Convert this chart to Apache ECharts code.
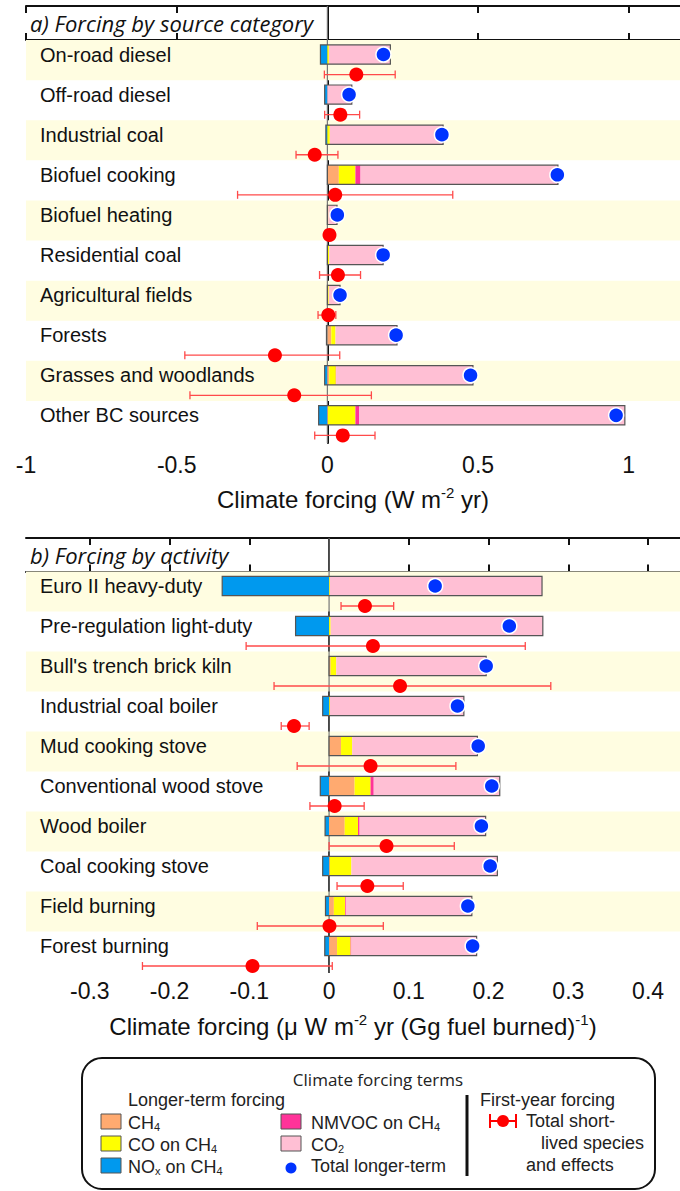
<!DOCTYPE html>
<html><head><meta charset="utf-8">
<script src="https://cdn.jsdelivr.net/npm/echarts@6/dist/echarts.min.js"></script>
<style>html,body{margin:0;padding:0;background:#fff;}#c{width:680px;height:1191px;}</style>
</head><body><div id="c"></div>
<script>
// ---------- Panel a: Forcing by source category (W m-2 yr) ----------
const catsA = ["On-road diesel","Off-road diesel","Industrial coal","Biofuel cooking","Biofuel heating","Residential coal","Agricultural fields","Forests","Grasses and woodlands","Other BC sources"];
const noxA   = [-0.023,-0.009,-0.005,0,0,0,0,-0.003,-0.009,-0.029];
const ch4A   = [0,0,0,0.038,0.002,0,0.003,0.013,0.006,0.002];
const coA    = [0.005,0,0.008,0.055,0.001,0.006,0.002,0.014,0.022,0.091];
const nmvocA = [0,0,0,0.017,0,0,0,0,0.001,0.013];
const co2A   = [0.204,0.081,0.376,0.655,0.029,0.179,0.037,0.204,0.454,0.881];
const totalA = [0.186,0.072,0.380,0.763,0.033,0.185,0.042,0.228,0.475,0.958];
const fyA    = [0.096,0.043,-0.042,0.026,0.007,0.035,0.003,-0.174,-0.110,0.051];
const fyLowA = [-0.010,-0.009,-0.104,-0.298,0.002,-0.026,-0.031,-0.473,-0.456,-0.042];
const fyHighA= [0.225,0.107,0.035,0.416,0.012,0.110,0.028,0.041,0.146,0.158];
const ticksA = [-1,-0.5,0,0.5,1];

// ---------- Panel b: Forcing by activity (uW m-2 yr (Gg fuel burned)-1) ----------
const catsB = ["Euro II heavy-duty","Pre-regulation light-duty","Bull's trench brick kiln","Industrial coal boiler","Mud cooking stove","Conventional wood stove","Wood boiler","Coal cooking stove","Field burning","Forest burning"];
const noxB   = [-0.134,-0.042,0,-0.008,0,-0.011,-0.005,-0.008,-0.0045,-0.0054];
const ch4B   = [0,0,0.002,0,0.015,0.032,0.0196,0.001,0.006,0.010];
const coB    = [0.001,0.002,0.007,0.001,0.014,0.020,0.0167,0.027,0.014,0.017];
const nmvocB = [0,0,0,0,0,0.004,0.002,0,0.001,0.001];
const co2B   = [0.266,0.266,0.188,0.168,0.157,0.158,0.158,0.183,0.158,0.157];
const totalB = [0.133,0.226,0.197,0.161,0.187,0.204,0.191,0.202,0.174,0.180];
const fyB    = [0.045,0.055,0.089,-0.044,0.052,0.007,0.072,0.048,0.0005,-0.096];
const fyLowB = [0.015,-0.104,-0.069,-0.060,-0.040,-0.024,0.000,0.010,-0.090,-0.234];
const fyHighB= [0.081,0.246,0.278,-0.025,0.159,0.044,0.157,0.093,0.068,0.004];
const ticksB = [-0.3,-0.2,-0.1,0,0.1,0.2,0.3,0.4];

const BAND='#fffde1', C_NOX='#0099ee', C_CH4='#ffaa70', C_CO='#ffff00', C_NMVOC='#ff3399', C_CO2='#ffbfd4', C_TOT='#0033ff', C_FY='#ff0000', C_ERR='#ff4a4a';
const SANS='"Liberation Sans", Arial, Helvetica, sans-serif';
const BAR_POS=0.36, ERR_POS=0.86;

function panelSeries(g, cats, nox, ch4, co, nmvoc, co2, total, fy, lo, hi){
  const xi=g*2, yi=g;
  return [
    {type:'custom', xAxisIndex:xi, yAxisIndex:yi, silent:true, z:1, clip:false,
     data: cats.map((c,i)=>[0,i]), encode:{x:0,y:1},
     renderItem(params, api){
       const i=api.value(1), cs=params.coordSys, ch=[];
       const y0=api.coord([0,i])[1], y1=api.coord([0,i+1])[1];
       if(i%2===0) ch.push({type:'rect', shape:{x:cs.x, y:y0, width:cs.width, height:y1-y0}, style:{fill:BAND}});
       ch.push({type:'text', x:cs.x+14, y:api.coord([0,i+BAR_POS])[1], style:{text:cats[i], fill:'#111', font:'20px '+SANS, align:'left', verticalAlign:'middle'}});
       return {type:'group', children:ch};
     }},
    {type:'custom', xAxisIndex:xi, yAxisIndex:yi, silent:true, z:2, clip:false,
     data:[[0,0]], encode:{x:0,y:1},
     renderItem(params, api){
       const cs=params.coordSys, x=api.coord([0,0])[0];
       return {type:'line', shape:{x1:x,y1:cs.y,x2:x,y2:cs.y+cs.height}, style:{stroke:'#777', lineWidth:1.2}};
     }},
    {type:'custom', xAxisIndex:xi, yAxisIndex:yi, silent:true, z:3, clip:false,
     data: cats.map((c,i)=>[i,nox[i],ch4[i],co[i],nmvoc[i],co2[i],total[i]]), encode:{x:[1,6],y:0},
     renderItem(params, api){
       const i=api.value(0), yc=api.coord([0,i+BAR_POS])[1], h=api.size([0,0.48])[1], ch=[];
       const seg=(a,b,col)=>{ if(a===b) return; const xa=api.coord([a,i])[0], xb=api.coord([b,i])[0];
         ch.push({type:'rect', shape:{x:Math.min(xa,xb), y:yc-h/2, width:Math.abs(xb-xa), height:h}, style:{fill:col}}); };
       const n=api.value(1); seg(n,0,C_NOX);
       let s=0; [[2,C_CH4],[3,C_CO],[4,C_NMVOC],[5,C_CO2]].forEach(([k,col])=>{const v=api.value(k); seg(s,s+v,col); s+=v;});
       const xl=api.coord([n,i])[0], xr=api.coord([s,i])[0];
       ch.push({type:'rect', shape:{x:xl, y:yc-h/2, width:xr-xl, height:h}, style:{fill:'none', stroke:'#555', lineWidth:1.2}});
       const xt=api.coord([api.value(6),i])[0];
       ch.push({type:'circle', shape:{cx:xt, cy:yc, r:7.5}, style:{fill:C_TOT, stroke:'#fff', lineWidth:1.5}});
       return {type:'group', children:ch};
     }},
    {type:'custom', xAxisIndex:xi, yAxisIndex:yi, silent:true, z:4, clip:false,
     data: cats.map((c,i)=>[i,fy[i],lo[i],hi[i]]), encode:{x:[1,3],y:0},
     renderItem(params, api){
       const i=api.value(0), y=api.coord([0,i+ERR_POS])[1];
       const xa=api.coord([api.value(2),i])[0], xb=api.coord([api.value(3),i])[0], xf=api.coord([api.value(1),i])[0];
       const st={stroke:C_ERR, lineWidth:1.3};
       return {type:'group', children:[
         {type:'line', shape:{x1:xa,y1:y,x2:xb,y2:y}, style:st},
         {type:'line', shape:{x1:xa,y1:y-4,x2:xa,y2:y+4}, style:st},
         {type:'line', shape:{x1:xb,y1:y-4,x2:xb,y2:y+4}, style:st},
         {type:'circle', shape:{cx:xf, cy:y, r:7}, style:{fill:C_FY}}
       ]};
     }}
  ];
}

function xAxes(g, min, max, ticks, name, gap, margin){
  const line={show:true, lineStyle:{color:'#111', width:2}};
  const tick={show:true, inside:true, length:7, lineStyle:{color:'#111', width:2}, customValues:ticks};
  return [
    {type:'value', gridIndex:g, position:'bottom', min, max, axisLine:line, axisTick:tick, splitLine:{show:false},
     axisLabel:{show:true, customValues:ticks, fontSize:23, fontFamily:SANS, color:'#111', margin, formatter:v=>String(+v.toFixed(2))},
     name, nameLocation:'middle', nameGap:gap,
     nameTextStyle:{fontSize:24, fontFamily:SANS, color:'#111', rich:{sup:{fontSize:15, fontFamily:SANS, color:'#111', padding:[0,0,13,0]}}}},
    {type:'value', gridIndex:g, position:'top', min, max, axisLine:line, axisTick:tick, splitLine:{show:false}, axisLabel:{show:false}}
  ];
}

const SUB={s:{fontSize:11, fontFamily:SANS, fill:'#222', padding:[7,0,0,0]}};
const LF='18px '+SANS;
const option = {
  animation:false,
  backgroundColor:'#fff',
  grid:[
    {left:26, top:6, width:654, height:437},
    {left:26, top:538, width:654, height:434}
  ],
  xAxis:[
    ...xAxes(0,-1,1.17,ticksA,'Climate forcing (W m{sup|-2} yr)',42,10),
    ...xAxes(1,-0.38,0.44,ticksB,'Climate forcing (μ W m{sup|-2} yr (Gg fuel burned){sup|-1})',40,7)
  ],
  yAxis:[
    {type:'value', gridIndex:0, inverse:true, min:-0.85, max:10.05, axisLine:{show:true, lineStyle:{color:'#111',width:2}}, axisTick:{show:false}, axisLabel:{show:false}, splitLine:{show:false}},
    {type:'value', gridIndex:1, inverse:true, min:-0.84, max:10.01, axisLine:{show:true, lineStyle:{color:'#111',width:2}}, axisTick:{show:false}, axisLabel:{show:false}, splitLine:{show:false}}
  ],
  series:[
    ...panelSeries(0,catsA,noxA,ch4A,coA,nmvocA,co2A,totalA,fyA,fyLowA,fyHighA),
    ...panelSeries(1,catsB,noxB,ch4B,coB,nmvocB,co2B,totalB,fyB,fyLowB,fyHighB)
  ],
  graphic:[
    {type:'text', x:30, y:23, z:10, style:{text:'a) Forcing by source category', font:'italic 22px "Open Sans", sans-serif', fill:'#111', align:'left', verticalAlign:'middle'}},
    {type:'text', x:30, y:555, z:10, style:{text:'b) Forcing by activity', font:'italic 22px "Open Sans", sans-serif', fill:'#111', align:'left', verticalAlign:'middle'}},
    // legend box
    {type:'rect', shape:{x:82, y:1058, width:573, height:131, r:20}, style:{fill:'#fff', stroke:'#111', lineWidth:2}},
    {type:'text', x:378, y:1079, style:{text:'Climate forcing terms', font:'17px "Open Sans", sans-serif', fill:'#222', align:'center', verticalAlign:'middle'}},
    {type:'text', x:128, y:1100, style:{text:'Longer-term forcing', font:LF, fill:'#222', align:'left', verticalAlign:'middle'}},
    {type:'rect', shape:{x:101, y:1114, width:20, height:15}, style:{fill:C_CH4, stroke:'#555', lineWidth:1}},
    {type:'rect', shape:{x:101, y:1136, width:20, height:15}, style:{fill:C_CO, stroke:'#555', lineWidth:1}},
    {type:'rect', shape:{x:101, y:1158, width:20, height:15}, style:{fill:C_NOX, stroke:'#555', lineWidth:1}},
    {type:'text', x:128, y:1123, style:{text:'CH{s|4}', rich:SUB, font:LF, fill:'#222', align:'left', verticalAlign:'middle'}},
    {type:'text', x:128, y:1145, style:{text:'CO on CH{s|4}', rich:SUB, font:LF, fill:'#222', align:'left', verticalAlign:'middle'}},
    {type:'text', x:128, y:1167, style:{text:'NO{s|x} on CH{s|4}', rich:SUB, font:LF, fill:'#222', align:'left', verticalAlign:'middle'}},
    {type:'rect', shape:{x:281, y:1114, width:20, height:15}, style:{fill:C_NMVOC, stroke:'#555', lineWidth:1}},
    {type:'rect', shape:{x:281, y:1136, width:20, height:15}, style:{fill:C_CO2, stroke:'#555', lineWidth:1}},
    {type:'circle', shape:{cx:291, cy:1168, r:5.5}, style:{fill:C_TOT}},
    {type:'text', x:311, y:1123, style:{text:'NMVOC on CH{s|4}', rich:SUB, font:LF, fill:'#222', align:'left', verticalAlign:'middle'}},
    {type:'text', x:311, y:1145, style:{text:'CO{s|2}', rich:SUB, font:LF, fill:'#222', align:'left', verticalAlign:'middle'}},
    {type:'text', x:311, y:1166, style:{text:'Total longer-term', font:LF, fill:'#222', align:'left', verticalAlign:'middle'}},
    {type:'line', shape:{x1:467, y1:1095, x2:467, y2:1176}, style:{stroke:'#111', lineWidth:3}},
    {type:'text', x:480, y:1100, style:{text:'First-year forcing', font:LF, fill:'#222', align:'left', verticalAlign:'middle'}},
    {type:'line', shape:{x1:490, y1:1121, x2:516, y2:1121}, style:{stroke:C_FY, lineWidth:2}},
    {type:'line', shape:{x1:490, y1:1114, x2:490, y2:1128}, style:{stroke:C_FY, lineWidth:2}},
    {type:'line', shape:{x1:516, y1:1114, x2:516, y2:1128}, style:{stroke:C_FY, lineWidth:2}},
    {type:'circle', shape:{cx:503, cy:1121, r:6}, style:{fill:C_FY}},
    {type:'text', x:526, y:1121, style:{text:'Total short-', font:LF, fill:'#222', align:'left', verticalAlign:'middle'}},
    {type:'text', x:541, y:1143, style:{text:'lived species', font:LF, fill:'#222', align:'left', verticalAlign:'middle'}},
    {type:'text', x:526, y:1165, style:{text:'and effects', font:LF, fill:'#222', align:'left', verticalAlign:'middle'}}
  ]
};
const chart = echarts.init(document.getElementById('c'), null, {renderer:'svg'});
chart.setOption(option);
</script></body></html>
